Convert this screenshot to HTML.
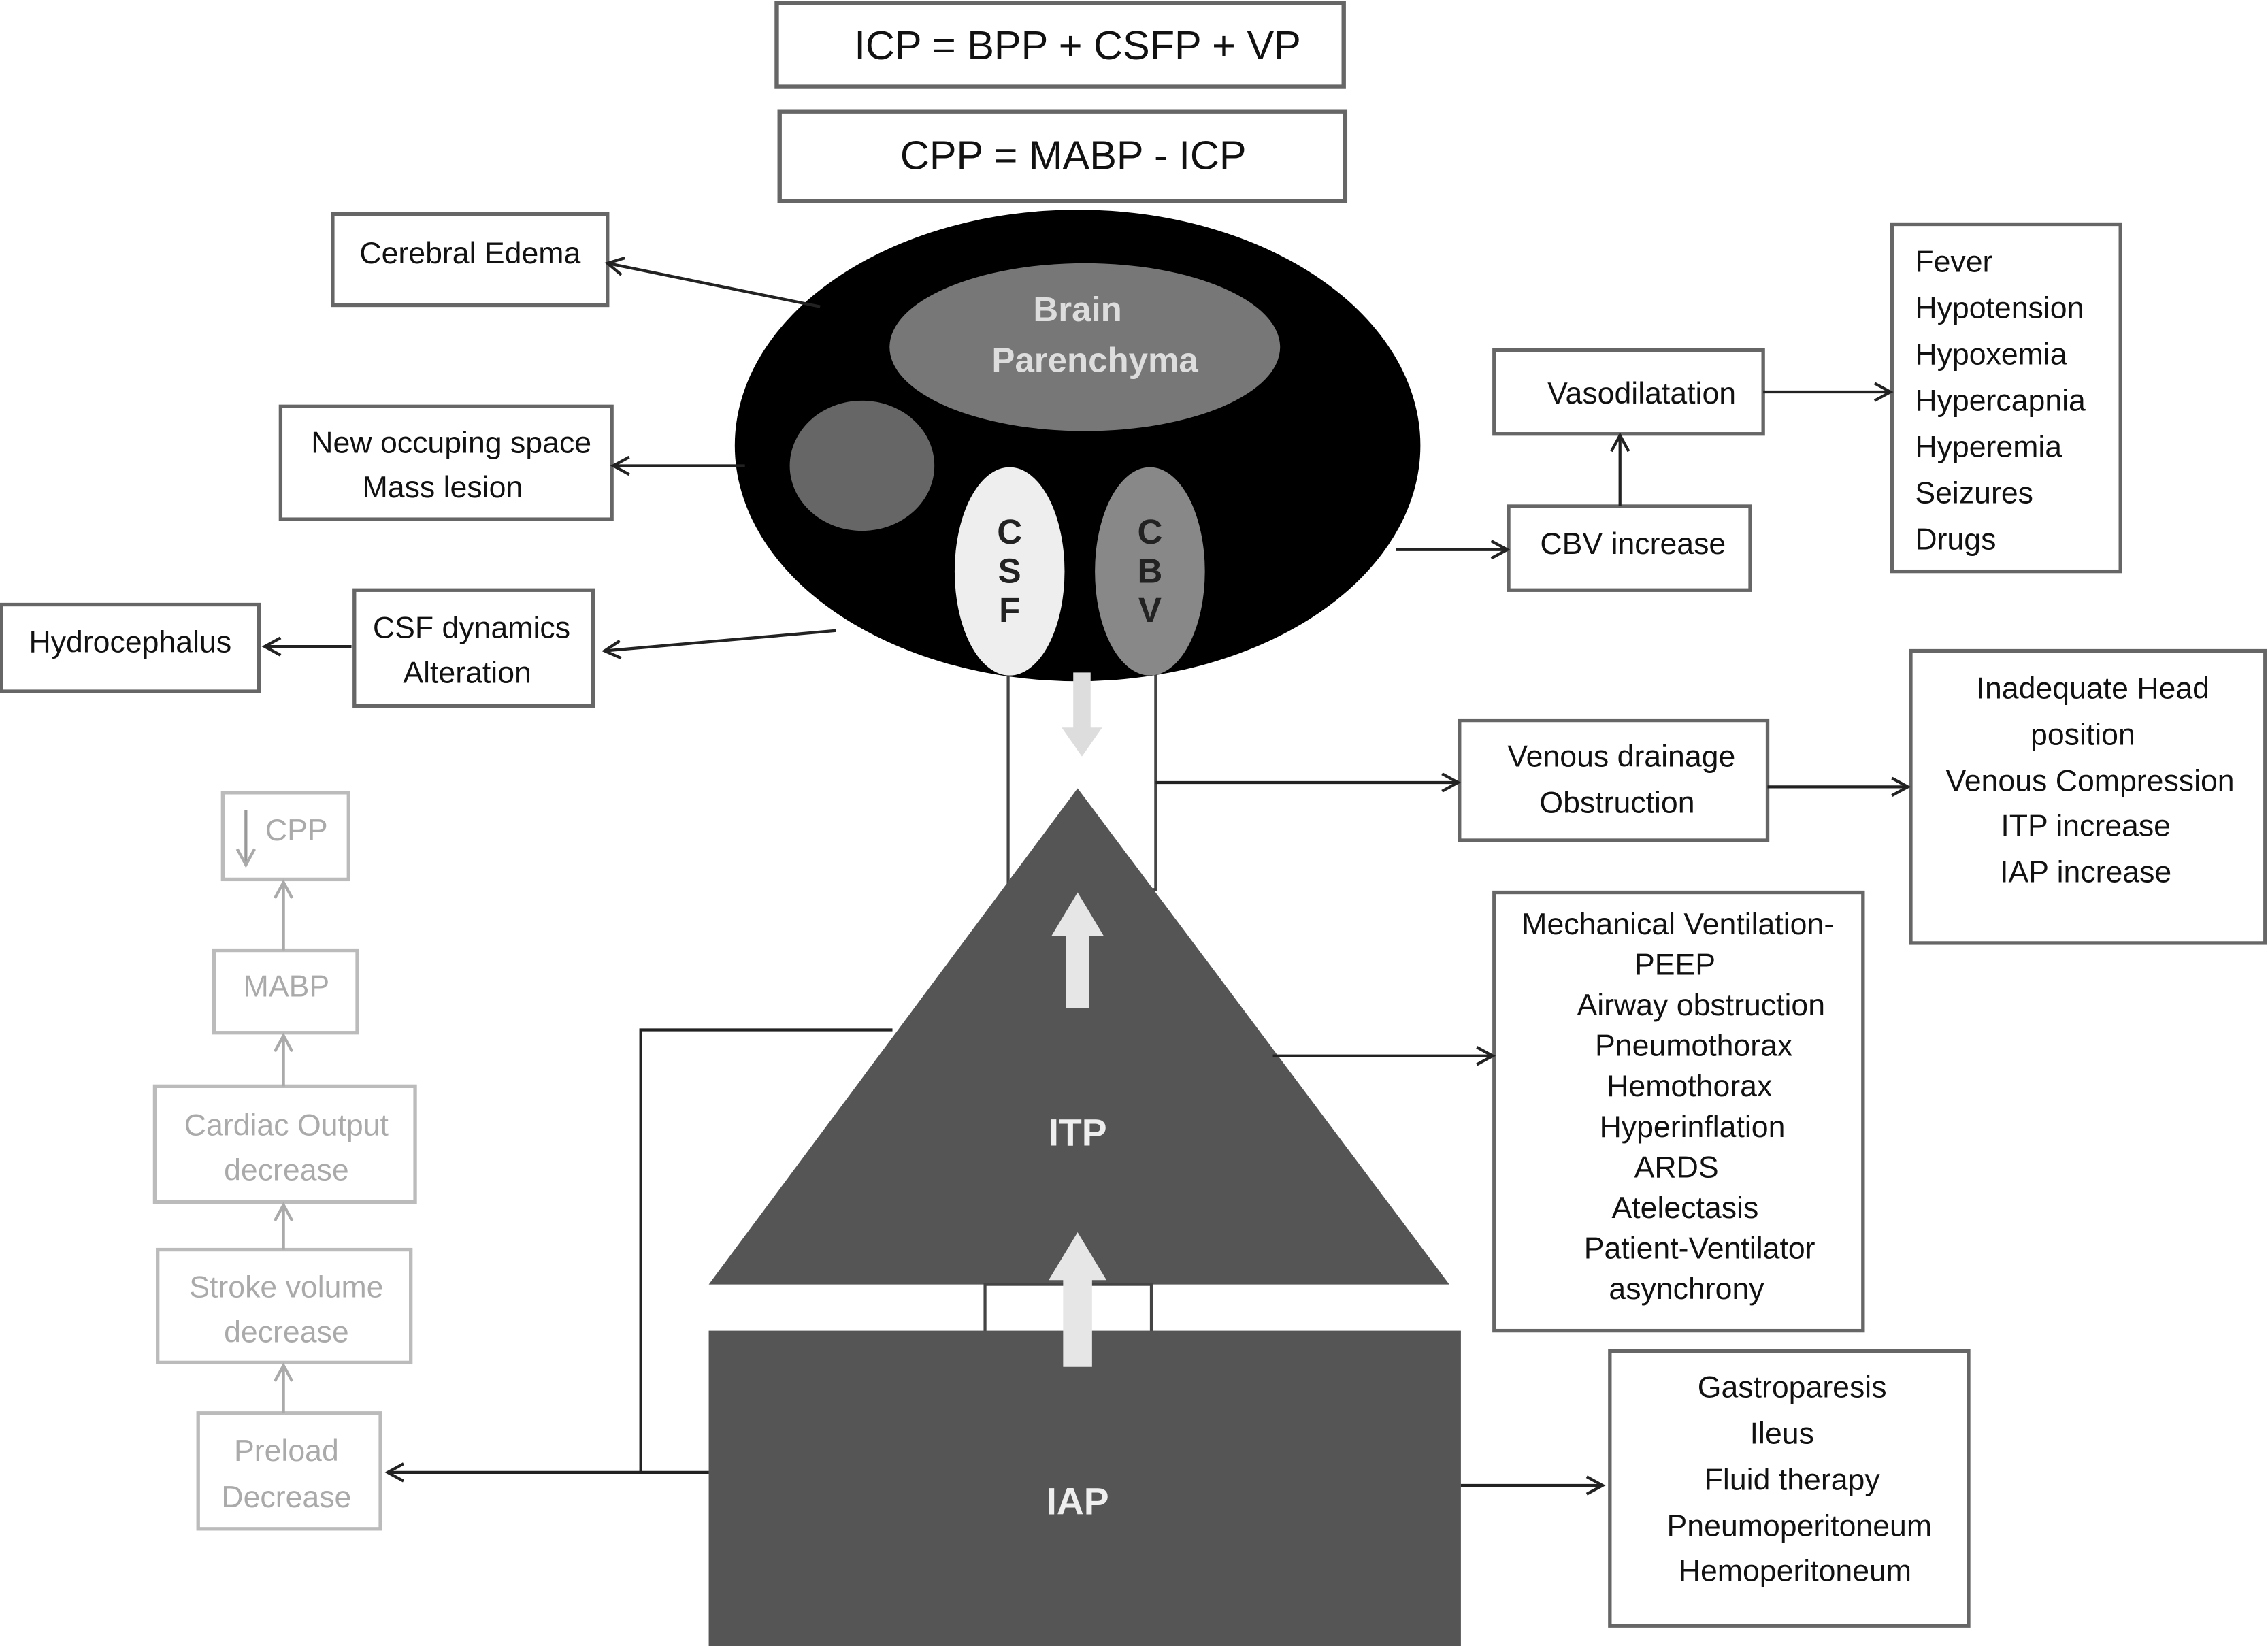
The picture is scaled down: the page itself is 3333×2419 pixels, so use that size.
<!DOCTYPE html>
<html><head><meta charset="utf-8"><style>
html,body{margin:0;padding:0;background:#fff;}
svg{display:block;}
text{font-family:"Liberation Sans",sans-serif;}
</style></head><body>
<svg width="3333" height="2419" viewBox="0 0 1568 1138" xmlns="http://www.w3.org/2000/svg">
<defs>
<marker id="a" markerWidth="14" markerHeight="14" refX="12" refY="7" orient="auto" markerUnits="userSpaceOnUse"><path d="M1,1 L12,7 L1,13" fill="none" stroke="#222" stroke-width="2"/></marker>
<marker id="g" markerWidth="14" markerHeight="14" refX="12" refY="7" orient="auto" markerUnits="userSpaceOnUse"><path d="M1,1 L12,7 L1,13" fill="none" stroke="#aaa" stroke-width="2"/></marker>
</defs>
<rect width="1568" height="1138" fill="#fff"/>
<g fill="#fff" stroke="#666" stroke-width="3">
<rect x="537" y="2" width="392" height="58"/>
<rect x="539" y="77" width="391" height="62"/>
</g>
<g font-size="28" fill="#111" text-anchor="middle">
<text x="745" y="41">ICP = BPP + CSFP + VP</text>
<text x="742" y="117">CPP = MABP - ICP</text>
</g>
<!-- stem -->
<rect x="697" y="455" width="102" height="160" fill="#fff" stroke="#444" stroke-width="2"/>
<ellipse cx="745" cy="308" rx="237" ry="163" fill="#000"/>
<ellipse cx="750" cy="240" rx="135" ry="58" fill="#777"/>
<text x="745" y="222" font-size="24" font-weight="bold" fill="#ddd" text-anchor="middle">Brain</text>
<text x="757" y="257" font-size="24" font-weight="bold" fill="#ddd" text-anchor="middle">Parenchyma</text>
<ellipse cx="596" cy="322" rx="50" ry="45" fill="#666"/>
<ellipse cx="698" cy="395" rx="38" ry="72" fill="#eee"/>
<ellipse cx="795" cy="395" rx="38" ry="72" fill="#888"/>
<g font-size="24" font-weight="bold" fill="#222" text-anchor="middle">
<text x="698" y="376">C</text><text x="698" y="403">S</text><text x="698" y="430">F</text>
<text x="795" y="376">C</text><text x="795" y="403">B</text><text x="795" y="430">V</text>
</g>
<!-- down arrow light -->
<path d="M742,465 h12 v38 h8 l-14,20 l-14,-20 h8z" fill="#ddd"/>
<!-- triangle -->
<polygon points="745,545 490,888 1002,888" fill="#555"/>
<path d="M737,697 v-50 h-10 l18,-30 l18,30 h-10 v50z" fill="#e6e6e6"/>
<text x="745" y="792" font-size="26" font-weight="bold" fill="#eee" text-anchor="middle">ITP</text>
<rect x="681" y="888" width="115" height="34" fill="#fff" stroke="#444" stroke-width="2"/>
<rect x="490" y="920" width="520" height="218" fill="#555"/>
<path d="M735,945 v-60 h-10 l20,-33 l20,33 h-10 v60z" fill="#e6e6e6"/>
<text x="745" y="1047" font-size="26" font-weight="bold" fill="#eee" text-anchor="middle">IAP</text>
<!-- boxes -->
<g fill="#fff" stroke="#666" stroke-width="2.5">
<rect x="230" y="148" width="190" height="63"/>
<rect x="194" y="281" width="229" height="78"/>
<rect x="245" y="408" width="165" height="80"/>
<rect x="1" y="418" width="178" height="60"/>
<rect x="1043" y="350" width="167" height="58"/>
<rect x="1033" y="242" width="186" height="58"/>
<rect x="1308" y="155" width="158" height="240"/>
<rect x="1009" y="498" width="213" height="83"/>
<rect x="1321" y="450" width="245" height="202"/>
<rect x="1033" y="617" width="255" height="303"/>
<rect x="1113" y="934" width="248" height="190"/>
</g>
<g fill="#fff" stroke="#bbb" stroke-width="2.5">
<rect x="154" y="548" width="87" height="60"/>
<rect x="148" y="657" width="99" height="57"/>
<rect x="107" y="751" width="180" height="80"/>
<rect x="109" y="864" width="175" height="78"/>
<rect x="137" y="977" width="126" height="80"/>
</g>
<!-- arrows -->
<g stroke="#222" stroke-width="2" fill="none" marker-end="url(#a)">
<line x1="567" y1="212" x2="420" y2="182"/>
<line x1="515" y1="322" x2="424" y2="322"/>
<line x1="578" y1="436" x2="418" y2="450"/>
<line x1="243" y1="447" x2="183" y2="447"/>
<line x1="965" y1="380" x2="1042" y2="380"/>
<line x1="1120" y1="350" x2="1120" y2="301"/>
<line x1="1219" y1="271" x2="1307" y2="271"/>
<line x1="799" y1="541" x2="1008" y2="541"/>
<line x1="1222" y1="544" x2="1319" y2="544"/>
<line x1="880" y1="730" x2="1032" y2="730"/>
<line x1="1010" y1="1027" x2="1108" y2="1027"/>
<polyline points="617,712 443,712 443,1018 268,1018"/>
</g>
<line x1="490" y1="1018" x2="443" y2="1018" stroke="#222" stroke-width="2"/>
<g stroke="#aaa" stroke-width="2" fill="none" marker-end="url(#g)">
<line x1="196" y1="657" x2="196" y2="610"/>
<line x1="196" y1="751" x2="196" y2="716"/>
<line x1="196" y1="864" x2="196" y2="833"/>
<line x1="196" y1="977" x2="196" y2="944"/>
<line x1="170" y1="560" x2="170" y2="598" stroke="#999"/>
</g>
<!-- text -->
<g font-size="21" fill="#111" text-anchor="middle">
<text x="325" y="182">Cerebral Edema</text>
<text x="312" y="313">New occuping space</text>
<text x="306" y="344">Mass lesion</text>
<text x="326" y="441">CSF dynamics</text>
<text x="323" y="472">Alteration</text>
<text x="90" y="451">Hydrocephalus</text>
<text x="1129" y="383">CBV  increase</text>
<text x="1135" y="279">Vasodilatation</text>
<text x="1121" y="530">Venous drainage</text>
<text x="1118" y="562">Obstruction</text>
<text x="1447" y="483">Inadequate Head</text>
<text x="1440" y="515">position</text>
<text x="1445" y="547">Venous Compression</text>
<text x="1442" y="578">ITP increase</text>
<text x="1442" y="610">IAP increase</text>
<text x="1160" y="646">Mechanical Ventilation-</text>
<text x="1158" y="674">PEEP</text>
<text x="1176" y="702">Airway obstruction</text>
<text x="1171" y="730">Pneumothorax</text>
<text x="1168" y="758">Hemothorax</text>
<text x="1170" y="786">Hyperinflation</text>
<text x="1159" y="814">ARDS</text>
<text x="1165" y="842">Atelectasis</text>
<text x="1175" y="870">Patient-Ventilator</text>
<text x="1166" y="898">asynchrony</text>
<text x="1239" y="966">Gastroparesis</text>
<text x="1232" y="998">Ileus</text>
<text x="1239" y="1030">Fluid therapy</text>
<text x="1244" y="1062">Pneumoperitoneum</text>
<text x="1241" y="1093">Hemoperitoneum</text>
</g>
<g font-size="21" fill="#111">
<text x="1324" y="188">Fever</text>
<text x="1324" y="220">Hypotension</text>
<text x="1324" y="252">Hypoxemia</text>
<text x="1324" y="284">Hypercapnia</text>
<text x="1324" y="316">Hyperemia</text>
<text x="1324" y="348">Seizures</text>
<text x="1324" y="380">Drugs</text>
</g>
<g font-size="21" fill="#aaa" text-anchor="middle">
<text x="205" y="581">CPP</text>
<text x="198" y="689">MABP</text>
<text x="198" y="785">Cardiac Output</text>
<text x="198" y="816">decrease</text>
<text x="198" y="897">Stroke volume</text>
<text x="198" y="928">decrease</text>
<text x="198" y="1010">Preload</text>
<text x="198" y="1042">Decrease</text>
</g>
</svg>
</body></html>
